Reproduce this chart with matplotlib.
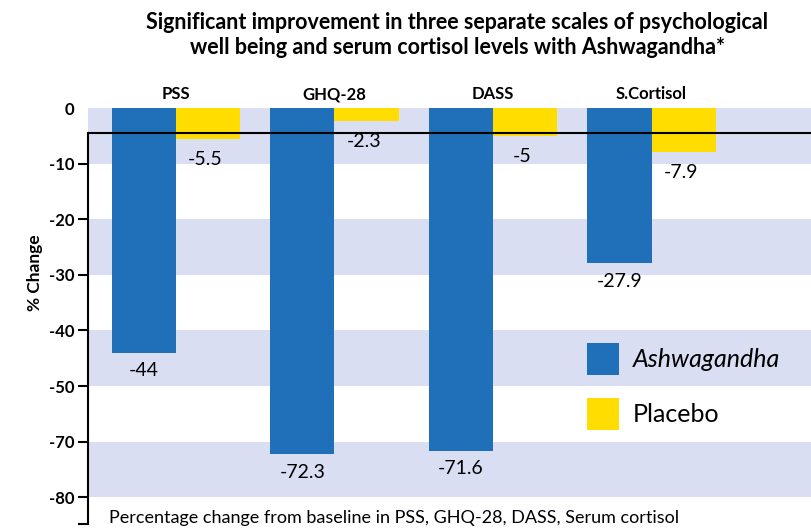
import numpy as np
import matplotlib.pyplot as plt

# data
categories = ['PSS', 'GHQ-28', 'DASS', 'S.Cortisol']
ashwagandha = [-44, -72.3, -71.6, -27.9]
placebo = [-5.5, -2.3, -5, -7.9]
tick_values = [0, -10, -20, -30, -40, -50, -70, -80]

blue = '#1f70b8'
yellow = '#ffdd00'
band = '#d9def2'

plt.rcParams['font.family'] = ['Lato', 'DejaVu Sans']


# the original axis skips the -50..-60 step, so squeeze that range out
def fwd(v):
    v = np.asarray(v, dtype=float)
    return np.where(v >= -50, v, np.where(v <= -60, v + 10, -50))


def inv(u):
    u = np.asarray(u, dtype=float)
    return np.where(u >= -50, u, u - 10)


fig = plt.figure(figsize=(8.11, 5.29), dpi=100)
ax = fig.add_axes([88 / 811, 5 / 529, 723 / 811, 416 / 529])
ax.set_yscale('function', functions=(fwd, inv))

x = np.arange(len(categories))
w = 0.404
ax.set_xlim(-0.555, 4.006)
ax.set_ylim(-84.8, 0)

# alternating background bands
for top in [0, -20, -40, -70]:
    ax.axhspan(top - 10, top, color=band, lw=0, zorder=0)

b1 = ax.bar(x - w / 2, ashwagandha, w, color=blue, zorder=2, label='Ashwagandha')
b2 = ax.bar(x + w / 2, placebo, w, color=yellow, zorder=2, label='Placebo')

ax.axhline(-4.5, color='black', lw=1.5, zorder=3)

for xi, v in zip(x - w / 2, ashwagandha):
    ax.annotate(str(v), (xi, v), xytext=(0, -13), textcoords='offset points',
                ha='center', va='center', fontsize=14)
for xi, v in zip(x + w / 2, placebo):
    ax.annotate(str(v), (xi, v), xytext=(-2, -15), textcoords='offset points',
                ha='center', va='center', fontsize=14)

for xi, name in zip(x, categories):
    ax.annotate(name, (xi, 0), xytext=(0, 10), textcoords='offset points',
                ha='center', va='center', fontsize=12, fontweight='bold',
                annotation_clip=False)

# axis styling
for s in ['top', 'right', 'bottom']:
    ax.spines[s].set_visible(False)
ax.spines['left'].set_bounds(-84.8, -4.5)
ax.spines['left'].set_linewidth(1.5)
ax.set_xticks([])
ax.set_yticks(tick_values + [-84.8])
ax.set_yticklabels([str(t) for t in tick_values] + [''], fontweight='bold', fontsize=12)
ax.tick_params(axis='y', length=7, width=1.5, pad=3)
ax.yaxis.get_major_ticks()[0].tick1line.set_visible(False)
ax.set_ylabel('% Change', fontsize=12.5, fontweight='bold')
ax.yaxis.set_label_coords(-0.062, 0.603)

leg = ax.legend(handles=[b1, b2], loc='upper left',
                bbox_to_anchor=(587 / 811, 1 - 343 / 529), bbox_transform=fig.transFigure,
                frameon=False, fontsize=18, borderpad=0, borderaxespad=0,
                handlelength=1.28, handleheight=1.59, labelspacing=0.92, handletextpad=0.56)
leg.get_texts()[0].set_fontstyle('italic')

fig.text(457 / 811, 1 - 35 / 529,
         'Significant improvement in three separate scales of psychological\n'
         'well being and serum cortisol levels with Ashwagandha*',
         ha='center', va='center', fontsize=15.5, fontweight='bold', linespacing=1.22)

fig.text(109 / 811, 1 - 518 / 529,
         'Percentage change from baseline in PSS, GHQ-28, DASS, Serum cortisol',
         ha='left', va='center', fontsize=13)

fig.savefig('out.png', dpi=100)
